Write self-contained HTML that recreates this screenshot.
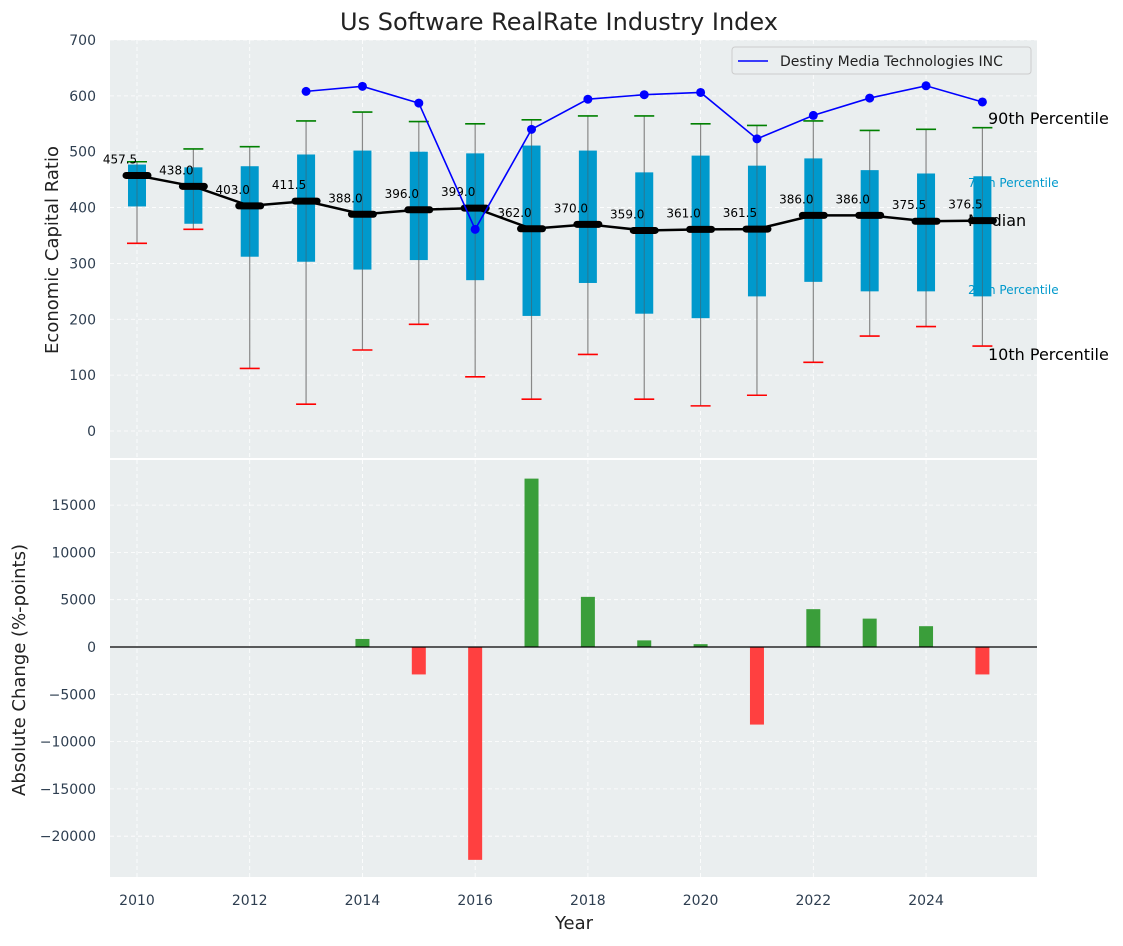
<!DOCTYPE html>
<html><head><meta charset="utf-8"><style>
body{margin:0;background:#fff;font-family:"DejaVu Sans","Liberation Sans",sans-serif}
</style></head><body>
<svg id="c" width="1123" height="942" xmlns="http://www.w3.org/2000/svg" font-family="DejaVu Sans, Liberation Sans, sans-serif"></svg>
<script>
const years=[2010,2011,2012,2013,2014,2015,2016,2017,2018,2019,2020,2021,2022,2023,2024,2025];
const p90=[482,505,509,555,571,554,550,557,564,564,550,547,555,538,540,543];
const p75=[477,472,474,495,502,500,497,511,502,463,493,475,488,467,461,456];
const median=[457.5,438,403,411.5,388,396,399,362,370,359,361,361.5,386,386,375.5,376.5];
const p25=[402,371,312,303,289,306,270,206,265,210,202,241,267,250,250,241];
const p10=[336,361,112,48,145,191,97,57,137,57,45,64,123,170,187,152];
const destinyYears=[2013,2014,2015,2016,2017,2018,2019,2020,2021,2022,2023,2024,2025];
const destiny=[608,617,587,361,540,594,602,606,523,565,596,618,589];
const changeYears=[2014,2015,2016,2017,2018,2019,2020,2021,2022,2023,2024,2025];
const changes=[850,-2900,-22500,17800,5300,700,300,-8200,4000,3000,2200,-2900];
const yTicksTop=[0,100,200,300,400,500,600,700];
const yTicksBot=[-20000,-15000,-10000,-5000,0,5000,10000,15000];
const xTicks=[2010,2012,2014,2016,2018,2020,2022,2024];

const svg=document.getElementById('c');
const NS='http://www.w3.org/2000/svg';
function el(t,a,parent){const e=document.createElementNS(NS,t);for(const k in a)e.setAttribute(k,a[k]);(parent||svg).appendChild(e);return e;}
function tx(s,a){const e=el('text',a);e.textContent=s;return e;}
const X=y=>137+(y-2010)*56.36;
const YT=v=>431-v*0.5586;
const YB=v=>647-v*0.00946;
const L=110,R=1037;

// backgrounds
let e=el('rect',{x:L,y:40,width:R-L,height:418,fill:'#eaeeef'});

e=el('rect',{x:L,y:460,width:R-L,height:417,fill:'#eaeeef'});


// grids
yTicksTop.forEach(v=>{el('line',{x1:L,x2:R,y1:YT(v),y2:YT(v),stroke:'#fff','stroke-dasharray':'4,3','stroke-width':0.8});
 e=tx(v,{x:96,y:YT(v)+5,'text-anchor':'end','font-size':14,fill:'#2e3e50'});
 });
yTicksBot.forEach(v=>{el('line',{x1:L,x2:R,y1:YB(v),y2:YB(v),stroke:'#fff','stroke-dasharray':'4,3','stroke-width':0.8});
 e=tx(v<0?'\u2212'+(-v):v,{x:96,y:YB(v)+5,'text-anchor':'end','font-size':14,fill:'#2e3e50'});
 });
xTicks.forEach(y=>{el('line',{x1:X(y),x2:X(y),y1:40,y2:458,stroke:'#fff','stroke-dasharray':'4,3','stroke-width':0.8});
 el('line',{x1:X(y),x2:X(y),y1:460,y2:877,stroke:'#fff','stroke-dasharray':'4,3','stroke-width':0.8});
 e=tx(y,{x:X(y),y:905,'text-anchor':'middle','font-size':14,fill:'#2e3e50'});
 });

// side labels
[['90th Percentile',988,124,16,'#000'],['75th Percentile',968,187,12,'#0099cc'],['Median',968,226,16,'#000'],['25th Percentile',968,294,12,'#0099cc'],['10th Percentile',988,360,16,'#000']].forEach(a=>{
 e=tx(a[0],{x:a[1],y:a[2],'font-size':a[3],fill:a[4]});});

// boxes
years.forEach((y,i)=>{const x=X(y);
 e=el('line',{x1:x,x2:x,y1:YT(p90[i]),y2:YT(p10[i]),stroke:'#888','stroke-width':1.2});
 
 e=el('rect',{x:x-9,y:YT(p75[i]),width:18,height:YT(p25[i])-YT(p75[i]),fill:'#0099cc'});
 
 el('line',{x1:x,x2:x,y1:YT(p75[i]),y2:YT(p25[i]),stroke:'#555','stroke-width':1,opacity:0.5});
 e=el('line',{x1:x-10,x2:x+10,y1:YT(p90[i]),y2:YT(p90[i]),stroke:'green','stroke-width':1.6});
 
 e=el('line',{x1:x-10,x2:x+10,y1:YT(p10[i]),y2:YT(p10[i]),stroke:'red','stroke-width':1.6});
 
});
// median line
e=el('polyline',{points:years.map((y,i)=>X(y)+','+YT(median[i])).join(' '),fill:'none',stroke:'#000','stroke-width':2.5});

years.forEach((y,i)=>{const x=X(y);
 e=el('line',{x1:x-11,x2:x+11,y1:YT(median[i]),y2:YT(median[i]),stroke:'#000','stroke-width':7,'stroke-linecap':'round'});
 
 e=tx(median[i].toFixed(1),{x:x-17,y:YT(median[i])-12,'text-anchor':'middle','font-size':12,fill:'#000'});
 
});
// destiny
e=el('polyline',{points:destinyYears.map((y,i)=>X(y)+','+YT(destiny[i])).join(' '),fill:'none',stroke:'#0000ff','stroke-width':1.6});

destinyYears.forEach((y,i)=>{e=el('circle',{cx:X(y),cy:YT(destiny[i]),r:4.5,fill:'#0000ff'});
 });

// legend
e=el('rect',{x:732,y:47,width:299,height:27,fill:'#eaeeef',stroke:'#ccc',rx:3});

el('line',{x1:738,x2:768,y1:61,y2:61,stroke:'#0000ff','stroke-width':1.6});
e=tx('Destiny Media Technologies INC',{x:780,y:66,'font-size':14,fill:'#222'});


// bars
changeYears.forEach((y,i)=>{const v=changes[i];
 e=el('rect',{x:X(y)-7,y:Math.min(YB(v),YB(0)),width:14,height:Math.abs(YB(v)-YB(0)),fill:v>=0?'#3a9e3a':'#ff4040'});
 });
el('line',{x1:L,x2:R,y1:YB(0),y2:YB(0),stroke:'#000','stroke-width':1.2});

// titles
e=tx('Us Software RealRate Industry Index',{x:559,y:30,'text-anchor':'middle','font-size':24,fill:'#222'});

e=tx('Economic Capital Ratio',{x:58,y:250,'text-anchor':'middle','font-size':18,fill:'#222',transform:'rotate(-90 58 250)'});

e=tx('Absolute Change (%-points)',{x:25,y:670,'text-anchor':'middle','font-size':18,fill:'#222',transform:'rotate(-90 25 670)'});

e=tx('Year',{x:574,y:929,'text-anchor':'middle','font-size':18,fill:'#222'});

</script>
</body></html>
